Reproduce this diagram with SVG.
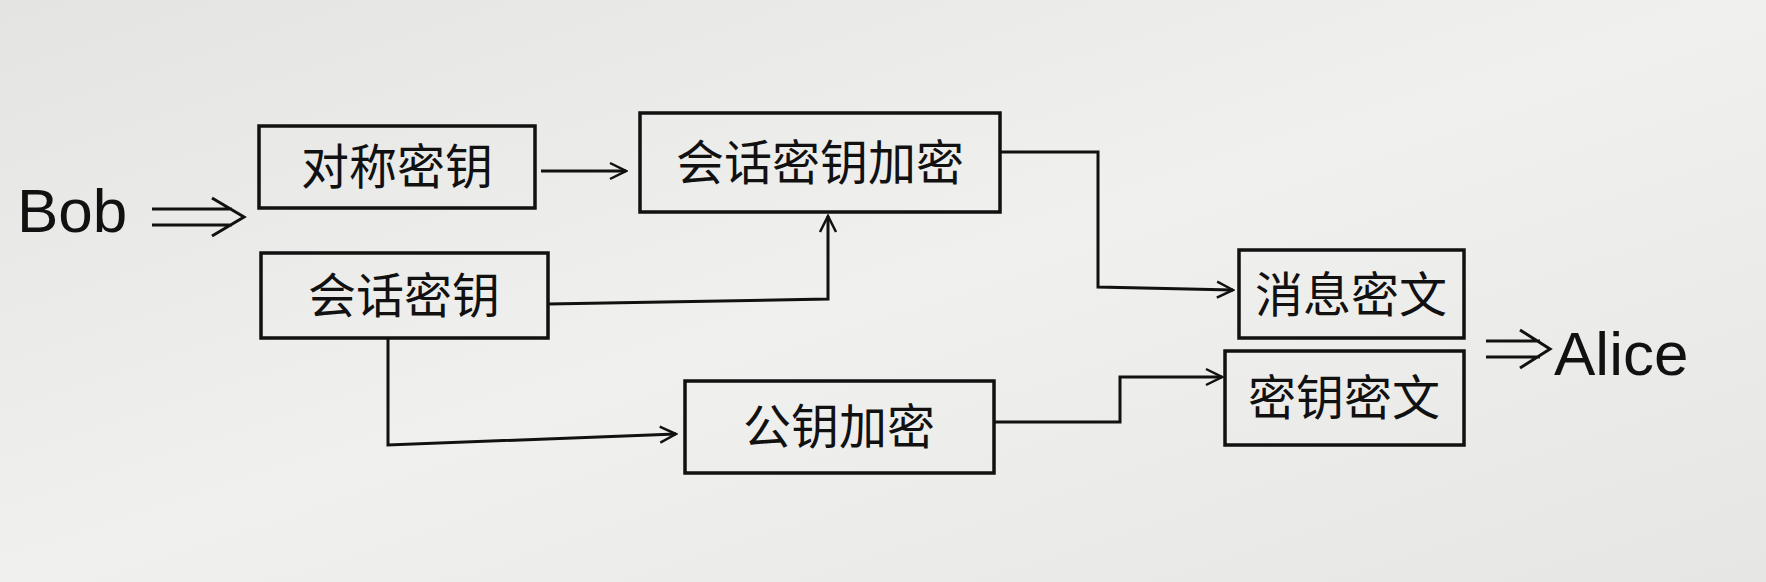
<svg xmlns="http://www.w3.org/2000/svg" width="1766" height="582" viewBox="0 0 1766 582">
<defs>
<linearGradient id="bg" x1="0" y1="0" x2="1" y2="1"><stop offset="0" stop-color="#e4e4e2"/><stop offset="0.5" stop-color="#f0f0ee"/><stop offset="1" stop-color="#e6e6e4"/></linearGradient>
<marker id="ah" viewBox="0 0 20 20" refX="18" refY="10" markerWidth="20" markerHeight="20" markerUnits="userSpaceOnUse" orient="auto"><path d="M2,2 L18,10 L2,18" fill="none" stroke="#111" stroke-width="2.5"/></marker>
<style>
.box{fill:none;stroke:#111;stroke-width:3.5}
.t{font-family:"Noto Sans CJK SC",sans-serif;font-size:48px;fill:#111;text-anchor:middle}
.c{fill:none;stroke:#111;stroke-width:3}
.big{font-family:"Liberation Sans",sans-serif;font-size:62px;fill:#111}
</style>
</defs>
<rect width="1766" height="582" fill="url(#bg)"/>
<g id="bob"><text class="big" x="17" y="232">Bob</text></g>
<g id="alice"><text class="big" x="1554" y="375">Alice</text></g>
<g id="n1"><rect class="box" x="259" y="126" width="276" height="82"/><text class="t" x="397" y="184">对称密钥</text></g>
<g id="n2"><rect class="box" x="640" y="113" width="360" height="99"/><text class="t" x="820" y="180">会话密钥加密</text></g>
<g id="n3"><rect class="box" x="261" y="253" width="287" height="85"/><text class="t" x="404" y="313">会话密钥</text></g>
<g id="n4"><rect class="box" x="685" y="381" width="309" height="92"/><text class="t" x="839" y="444">公钥加密</text></g>
<g id="n5"><rect class="box" x="1239" y="250" width="225" height="88"/><text class="t" x="1351" y="312">消息密文</text></g>
<g id="n6"><rect class="box" x="1225" y="351" width="239" height="94"/><text class="t" x="1344" y="415">密钥密文</text></g>
<g id="connectors">
<path class="c" d="M152,209 L232,209 M152,225 L232,225 M212,198 L244,217 L212,236"/>
<path class="c" d="M1486,341 L1540,341 M1486,357 L1540,357 M1520,330 L1550,349 L1520,368"/>
<path class="c" d="M541,171 L626,171" marker-end="url(#ah)"/>
<path class="c" d="M548,304 L828,299 L828,216" marker-end="url(#ah)"/>
<path class="c" d="M1000,152 L1098,152 L1098,287 L1233,290" marker-end="url(#ah)"/>
<path class="c" d="M388,338 L388,445 L676,434" marker-end="url(#ah)"/>
<path class="c" d="M994,422 L1120,422 L1120,377 L1222,377" marker-end="url(#ah)"/>
</g>
</svg>
